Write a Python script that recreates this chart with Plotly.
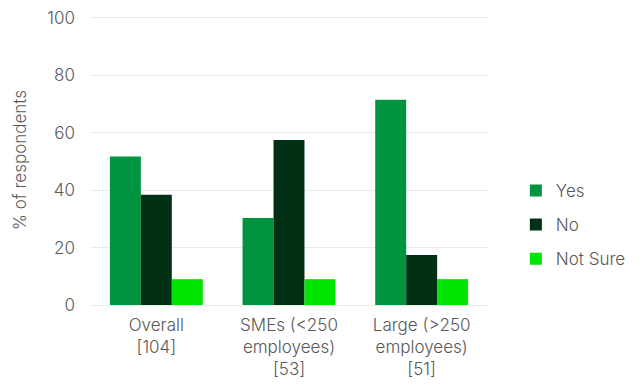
import plotly.graph_objects as go

categories = ["Overall<br>[104]", "SMEs (<250<br>employees)<br>[53]", "Large (>250<br>employees)<br>[51]"]
yes_vals = [51.7, 30.3, 71.5]
no_vals = [38.4, 57.5, 17.4]
notsure_vals = [9.0, 9.0, 9.0]
tick_vals = [0, 20, 40, 60, 80, 100]

font_family = "Inter, Liberation Sans, Arial, sans-serif"
grey = "#595959"
fnt = dict(family=font_family, size=17, color=grey, weight=300)

fig = go.Figure()
fig.add_trace(go.Bar(name="Yes", x=categories, y=yes_vals, marker_color="#009340",
                     marker_line_width=0, legendgroup="a"))
fig.add_trace(go.Bar(name="No", x=categories, y=no_vals, marker_color="#023014",
                     marker_line_width=0, legendgroup="b"))
fig.add_trace(go.Bar(name="Not Sure", x=categories, y=notsure_vals, marker_color="#00E600",
                     marker_line_width=0, legendgroup="c"))

fig.update_layout(
    width=644, height=385,
    margin=dict(l=90, r=156, t=15, b=80, autoexpand=False),
    barmode="group", bargap=0.3, bargroupgap=0,
    plot_bgcolor="white", paper_bgcolor="white",
    font=fnt,
    legend=dict(x=1.07, y=0.276, xanchor="left", yanchor="middle",
                font=fnt, tracegroupgap=9),
    showlegend=True,
)
fig.update_yaxes(range=[0, 101], tickvals=tick_vals, showgrid=True,
                 gridcolor="#E2EFE6", gridwidth=1, zeroline=True,
                 zerolinecolor="#E2EFE6", zerolinewidth=1,
                 ticks="", ticklabelstandoff=14, tickfont=fnt, automargin=False,
                 title=dict(text="% of respondents", font=fnt, standoff=16))
fig.update_xaxes(showline=False, ticks="", tickfont=fnt, ticklabelstandoff=8, automargin=False)

fig.write_html("out.html")
